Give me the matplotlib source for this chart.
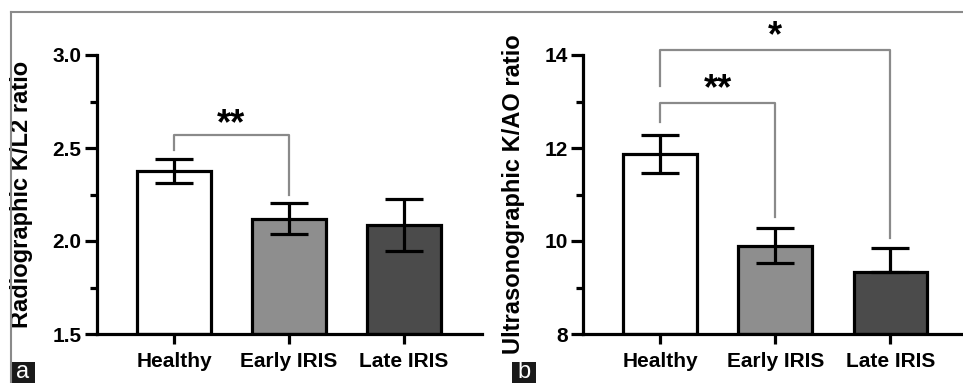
import matplotlib
matplotlib.use("Agg")
import matplotlib.pyplot as plt
from matplotlib.lines import Line2D
from matplotlib.patches import Rectangle
from matplotlib.ticker import MultipleLocator

plt.rcParams["font.family"] = ["Liberation Sans", "DejaVu Sans"]
plt.rcParams["font.weight"] = "bold"

groups = ["Healthy", "Early IRIS", "Late IRIS"]
colors = ["#ffffff", "#8e8e8e", "#4b4b4b"]

# panel a: radiographic K/L2 ratio
radio_mean = [2.375, 2.12, 2.085]
radio_err = [0.065, 0.085, 0.14]

# panel b: ultrasonographic K/AO ratio
us_mean = [11.87, 9.90, 9.34]
us_err = [0.41, 0.37, 0.52]

W, H = 963, 383
fig = plt.figure(figsize=(W / 100, H / 100), dpi=100)


def px_axes(left, right, top, bottom):
    return fig.add_axes([left / W, (H - bottom) / H, (right - left) / W, (bottom - top) / H])


def style(ax, ylim, major, minor, xlim):
    ax.set_ylim(*ylim)
    ax.set_xlim(*xlim)
    ax.yaxis.set_major_locator(MultipleLocator(major))
    ax.yaxis.set_minor_locator(MultipleLocator(minor))
    for s in ["top", "right"]:
        ax.spines[s].set_visible(False)
    for s in ["left", "bottom"]:
        ax.spines[s].set_linewidth(2.3)
    ax.tick_params(axis="y", which="major", length=9, width=2.3, labelsize=15, pad=2)
    ax.tick_params(axis="y", which="minor", length=5, width=2.3)
    ax.tick_params(axis="x", length=7, width=2.3, labelsize=15, pad=6)
    ax.set_xticks(range(len(groups)))
    ax.set_xticklabels(groups, fontweight="bold")
    for t in ax.get_yticklabels():
        t.set_fontweight("bold")


def bracket(ax, x0, x1, y, y0, y1, stars, ys):
    ax.plot([x0, x0, x1, x1], [y0, y, y, y1], color="#8a8a8a", lw=1.6, clip_on=False)
    ax.text((x0 + x1) / 2, ys, stars, ha="center", va="center", fontsize=26,
            fontweight="bold", clip_on=False)


# panel a
ax1 = px_axes(97, 482, 55, 334)
ax1.bar(range(3), [m - 1.5 for m in radio_mean], bottom=1.5, width=0.64, color=colors,
        edgecolor="black", linewidth=2.3, zorder=2)
ax1.errorbar(range(3), radio_mean, yerr=radio_err, fmt="none", ecolor="black",
             elinewidth=2.3, capsize=14, capthick=2.3, zorder=3)
style(ax1, (1.5, 3.0), 0.5, 0.25, (-0.67, 2.68))
ax1.set_ylabel("Radiographic K/L2 ratio", fontsize=17, fontweight="bold")
ax1.yaxis.set_label_coords(-0.166, 0.5)
bracket(ax1, 0, 1, 2.57, 2.49, 2.25, "**", 2.625)

# panel b
ax2 = px_axes(583, 963, 55, 334)
ax2.bar(range(3), [m - 8 for m in us_mean], bottom=8, width=0.64, color=colors,
        edgecolor="black", linewidth=2.3, zorder=2)
ax2.errorbar([0, 1], us_mean[:2], yerr=us_err[:2], fmt="none", ecolor="black",
             elinewidth=2.3, capsize=14, capthick=2.3, zorder=3)
ax2.errorbar([2], us_mean[2:], yerr=[[0], us_err[2:]], fmt="none", ecolor="black",
             elinewidth=2.3, capsize=14, capthick=2.3, zorder=3)
style(ax2, (8, 14), 2, 1, (-0.67, 2.63))
ax2.set_ylabel("Ultrasonographic K/AO ratio", fontsize=17, fontweight="bold")
ax2.yaxis.set_label_coords(-0.153, 0.5)
bracket(ax2, 0, 1, 12.97, 12.56, 10.52, "**", 13.25)
bracket(ax2, 0, 2, 14.10, 13.33, 10.06, "*", 14.40)

# frame lines and panel letters
fig.add_artist(Line2D([11 / W, 1], [1 - 12 / H] * 2, color="#8a8a8a", lw=1.5))
fig.add_artist(Line2D([11 / W] * 2, [0, 1 - 12 / H], color="#8a8a8a", lw=1.5))
for x, letter in [(11, "a"), (512, "b")]:
    fig.add_artist(Rectangle((x / W, 0), 24 / W, 21 / H, transform=fig.transFigure,
                             fc="#1a1a1a", ec="none"))
    fig.text((x + 12) / W, 11 / H, letter, ha="center", va="center", fontsize=17,
             fontweight="normal", color="white")

fig.savefig("out.png", dpi=100)
